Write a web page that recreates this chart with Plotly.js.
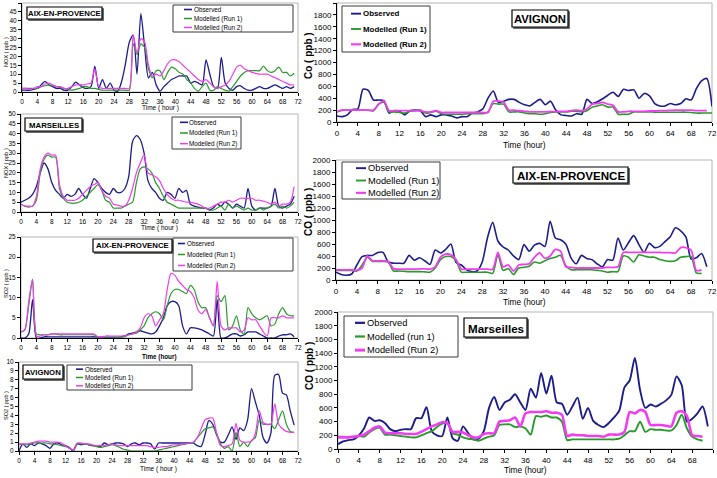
<!DOCTYPE html>
<html>
<head>
<meta charset="utf-8">
<script src="https://cdn.plot.ly/plotly-3.0.1.min.js"></script>
<style>
  html, body { margin: 0; padding: 0; background: #ffffff; }
  #chart { width: 717px; height: 478px; }
</style>
</head>
<body>
<div id="chart"></div>
<script>
// Hourly series, t = 0 .. 71 h (modelled CO runs stop one hour earlier)
const HOURS = Array.from({ length: 73 }, (_, i) => i);

// NOx (ppb) - Aix-en-Provence
const noxAixObs  = [1,1,1,1.5,2,4,6,4,3,2,2,1,1,3,5.5,4,2.5,2,3,14.5,2,7,2,5,1,0.5,6,16,28,32,10,44,25,8,11,4,0.5,3,5,7,8,9,9,9,5,6,5,4,18,10,3,2,19.5,5,2,1,3,3.5,2,1,1,2,3,2,2,3,4,3,2,3,2,3];
const noxAixRun1 = [2,2,2,2,2,3,3.5,4,3.5,3,2.5,2,1.5,1,1.5,2,3,3,2,2,1.5,1,1,1,1,1,1,1,1,27,21,27,25,13,8,12,12,7,11,14,13,11,10,7,5,2,0.5,3,5,1,1,3,2,1,0.5,3,6,9,11,12,12,12,12,14.5,12,11,12,14,11,11,9,10.5];
const noxAixRun2 = [2,2,1.5,2,3,3,4.5,5,4,3,3,2,2,3,4,4,4,4.5,5,13,3,2,2,2,2,2,2,2,2,32,22,30,28,15,9,10,9,12,16,18,18,17,15,13,11,9,7,6,7,5,3,2,3,4,6,10,14,15,13,12,11,10.5,10,10,10,9,8,7,6,5,4,4];

// NOx (ppb) - Marseilles
const noxMarObs  = [5,6,7,9,13,20,25,22,15,11,9,7,9,8,9,12,9,7,12,17,15,12,10,9,12,10,10,12,18,36,39,37,30,16,12,10,7,6,10,9,7,12,10,11,4,3,2.5,2,2,1,2,4,3,5,4,2,4,3,2,12,3,1,2,2,2,3,12,3,2,3,4,8];
const noxMarRun1 = [4,3,2.5,3,6,20,27,29,28,28,12,7,5,4.5,4.5,5,6,8,10,12,14,11,6,5,2,2,2,3,4,5,15,22,23,22,20,15,12,8,5,4,3,2,2,2,2,2,2,2,2,1,1,2,3,1,4,2,3,2,1,2,1,1,2,1,2,3,4,2,3,2,3,5];
const noxMarRun2 = [4,3,3,3,8,22,28,30,29,29,14,8,6,6,6,7,9,11,13,14,15,11,8,7,4,3.5,3,3,6,12,20,25,29,20,19,18,16,12,9,7,6,6,5.5,5,5,4.5,4,3,2,2,3,4,5,5,6,5,6,7,7,7,7,6,6,5.5,5,4,5,3,4,4,5,13];

// SO2 (ppb) - Aix-en-Provence
const so2AixObs  = [0,0,1,9.5,0,0,0.3,0.3,0.3,0.3,0.3,0.3,0.3,0.3,0.3,0.3,0.3,0.3,0.3,0.3,0.2,0.2,0.2,0.2,0.2,0.2,0.3,0.5,1,1.2,1.5,1.8,1.5,1.2,1,1.5,3,5,8,9,9,8,3,1,2.5,2.5,2.3,2,1.5,1,0.5,9.5,0,0,0.5,1,1,0.5,0.8,1.5,1.5,1.5,1,0.5,0,0,0,0.5,0.8,0.8,1,0.3];
const so2AixRun1 = [1.5,2,8,14.5,1,0.8,0.8,0.8,1,1,0.8,0.8,0.8,0.8,0.8,0.8,0.8,0.8,0.8,0.8,0,0,0,0,0,0.1,0.2,0.3,0.8,1,1.2,2,3,5,6,6.5,6,4.5,8,11,12,12,11.5,11,13,12,9,7.5,7.5,5,3,10.5,9,10.5,2,3,5.5,2,1,7.5,6,5,4.5,5,5.5,3,3.5,6,7.5,6,5.5,5.5];
const so2AixRun2 = [1.5,2,9,14.5,0.5,0.5,0.8,0.8,1,1,1,1,1,1,1,1,1,1,1,1,0.3,0.3,0.5,0.5,0.5,0.5,0.5,0.5,0.8,1,1.5,2.5,5,6,5.5,3,4.5,6,12,16,15.5,14,13,12,11.5,10,7,6,7,5,3,14,3,2,2.5,2.5,2.5,1.5,2,5,4.5,4.5,3,1.5,0.5,5,5,5,5.5,5,5,5];

// SO2 (ppb) - Avignon
const so2AviObs  = [0,0.8,0.4,0.8,0.6,0.9,0.8,0.6,0.3,0.8,0.9,0.7,0.6,0.4,0,0.8,0.7,0.8,0.7,0.6,0.6,0.5,0.9,0.7,0.8,0.9,0.9,0.8,0.5,0.8,0.9,0.7,0.9,0.9,0.8,0.2,0.9,0.9,0.9,0.9,0.9,0.9,0.9,0.9,0.9,0.9,0.6,0.5,1.8,3.4,3,1.8,1,1,1.8,2.7,1.3,2.6,2.3,3.5,7,5.5,4,1.5,0.9,2,8.5,8.6,6.5,6.3,4.5,2.9];
const so2AviRun1 = [0.8,0.7,0.7,0.8,0.9,0.9,0.9,0.9,0.8,0.8,0.7,0.6,0.5,0.3,0.1,0.8,0.8,0.8,0.7,0.6,0.5,0.4,0.5,0.6,0.7,0.6,0.4,0.2,0.1,0,0,0,0,0,0,0,0.1,0.2,0.3,0.4,0.5,0.6,0.7,0.8,0.9,0.9,1.5,2,2.5,2.6,2.7,2,0.8,0.3,0.5,0,2.1,0.5,1,0.5,1.2,1.5,3.5,3,3,3,2.5,3.5,4.5,3,2.2,2.1];
const so2AviRun2 = [0.8,0.8,0.8,0.9,1,1.1,1.1,1.1,1,1,1,0.9,0.6,0.3,0.1,0.9,0.9,0.8,0.8,0.7,0.6,0.6,0.6,0.7,0.8,0.7,0.6,0.6,0.6,0.6,0.6,0.6,0.6,0.6,0.5,0.4,0.4,0.5,0.5,0.6,0.7,0.7,0.8,0.8,0.9,1,1.5,2.5,3.5,3.7,3.7,2,0.6,0.5,0.6,0.8,3.1,1.2,1,1,1.1,2,4.5,3.2,3,3,5.3,3,2.5,2.2,2.1,2.1];

// CO (ppb) - Avignon
const coAviObs  = [100,90,120,210,220,550,530,370,370,360,150,190,180,120,190,200,190,90,120,90,120,120,100,70,90,90,150,170,220,400,520,330,350,380,380,330,290,270,330,380,290,350,200,120,110,100,140,130,380,310,340,390,450,500,430,550,530,540,400,480,440,310,270,270,310,290,310,390,370,560,690,730,260];
const coAviRun1 = [170,200,200,200,200,200,195,190,300,330,170,170,160,150,180,190,200,150,160,180,140,130,130,130,130,140,140,140,140,170,310,300,300,170,170,170,150,140,140,130,140,160,170,170,170,180,180,170,190,250,270,290,250,250,130,130,130,170,170,170,170,165,165,165,165,165,165,165,160,150,150,150,150];
const coAviRun2 = [170,200,200,200,200,200,200,200,300,355,190,190,190,190,190,190,190,170,170,190,160,160,160,160,160,160,160,160,160,160,350,350,330,200,200,190,180,170,170,170,170,175,175,180,180,190,200,190,220,300,310,330,300,280,170,170,180,180,180,180,185,185,190,190,195,200,200,200,200,190,190,190];

// CO (ppb) - Aix-en-Provence
const coAixObs  = [130,90,80,100,250,390,410,410,460,460,300,280,280,280,410,330,370,320,260,500,450,510,600,290,250,170,140,150,300,700,960,650,550,500,400,340,590,480,580,610,560,980,700,670,600,370,270,410,360,340,270,220,340,330,700,500,620,740,590,460,610,540,560,640,720,870,820,720,350,370,440,220];
const coAixRun1 = [160,160,160,160,150,250,380,310,310,310,300,150,150,145,140,140,140,135,130,200,340,390,390,320,130,130,130,130,130,130,110,420,160,190,90,200,210,230,300,280,320,360,380,410,240,170,170,170,170,170,160,150,130,140,140,400,380,300,420,400,380,380,340,320,310,320,380,390,390,120,110];
const coAixRun2 = [170,170,170,170,160,200,400,320,320,320,310,190,180,180,180,180,185,185,180,220,380,430,420,340,180,180,180,180,180,180,180,460,220,250,150,250,260,270,380,450,360,400,510,480,220,210,200,200,200,200,200,200,210,210,220,460,460,460,460,460,460,460,460,455,455,450,540,540,500,160,170];

// CO (ppb) - Marseilles
const coMarObs  = [70,110,130,140,200,300,460,410,420,380,290,260,280,290,290,450,450,610,260,200,190,460,160,120,330,230,140,150,260,600,760,570,680,720,800,680,570,880,750,1110,810,1070,680,660,500,620,750,440,600,410,350,320,380,460,560,900,1000,1330,860,600,650,620,660,710,790,1060,930,400,440,520,620,330];
const coMarRun1 = [180,180,170,180,190,180,240,290,310,210,210,200,190,180,170,170,200,230,260,320,370,380,230,210,170,150,140,120,150,180,200,350,360,360,320,330,300,210,480,470,490,460,460,400,130,140,140,140,140,140,140,140,140,140,150,200,260,260,400,250,290,280,280,270,270,350,500,300,180,140,120];
const coMarRun2 = [170,170,170,180,190,210,260,310,330,240,230,230,230,220,220,220,250,290,330,360,390,380,250,250,240,200,170,170,220,230,230,400,410,420,460,330,520,540,540,540,550,530,530,500,190,210,200,200,190,190,190,180,210,210,210,250,540,520,570,540,350,350,350,340,330,530,550,480,200,190,180];

// Legend and title texts
const LABELS_LEFT  = ['Observed', 'Modelled (Run 1)', 'Modelled (Run 2)'];
const LABELS_MAR   = ['Observed', 'Modelled (run 1)', 'Modelled (Run 2)'];
const STATIONS     = ['AIX-EN-PROVENCE', 'MARSEILLES', 'AIX-EN-PROVENCE', 'AVIGNON', 'AVIGNON', 'AIX-EN-PROVENCE', 'Marseilles'];
const Y_TITLES     = ['NOX ( ppb )', 'NOX ( ppb )', 'SO2 ( ppb )', 'SO2 ( ppb )', 'Co ( ppb )', 'CO ( ppb )', 'CO ( ppb )'];
const X_TITLES     = ['Time ( hour )', 'Time ( hour )', 'Time (hour)', 'Time ( hour )', 'Time (hour)', 'Time (hour)', 'Time (hour)'];

const COLORS = ['#1c1c8c', '#2a9a2a', '#f23cf2'];
const FONT = 'Liberation Sans, Arial, sans-serif';
const W = 717, H = 478;
const fx = v => v / W;
const fy = v => 1 - v / H;

// Panel geometry in page pixels
const panels = [
  { series: [noxAixObs, noxAixRun1, noxAixRun2], labels: LABELS_LEFT, x: [22, 298], y: [3, 92], range: [0, 50], dtick: 5,
    tick: 6.5, widths: [1.3, 1.2, 1.2],
    legend: { box: [173, 5, 293, 32], line: [184, 192], text: 194, size: 6.3, bold: false },
    station: { box: [27, 7, 102, 19], size: 7.8 },
    ytitle: { x: 6, y: 52, size: 5.6, bold: false }, xtitle: { y: 108, size: 6.5, bold: false } },
  { series: [noxMarObs, noxMarRun1, noxMarRun2], labels: LABELS_LEFT, x: [21, 298], y: [114, 212], range: [0, 50], dtick: 5,
    tick: 6.5, widths: [1.3, 1.2, 1.2],
    legend: { box: [172, 117, 241, 149], line: [180, 188], text: 189, size: 6.3, bold: false },
    station: { box: [25, 118, 82, 131], size: 7.8 },
    ytitle: { x: 6, y: 163, size: 5.6, bold: false }, xtitle: { y: 228, size: 6.5, bold: false } },
  { series: [so2AixObs, so2AixRun1, so2AixRun2], labels: LABELS_LEFT, x: [21, 298], y: [237, 338], range: [0, 25], dtick: 5,
    tick: 6.5, widths: [1.3, 1.2, 1.2],
    legend: { box: [173, 238, 293, 271], line: [178, 185], text: 187, size: 6.3, bold: false },
    station: { box: [93, 239, 172, 252], size: 7.8 },
    ytitle: { x: 6, y: 284, size: 5.6, bold: false }, xtitle: { y: 357, size: 6.3, bold: true } },
  { series: [so2AviObs, so2AviRun1, so2AviRun2], labels: LABELS_LEFT, x: [19, 298], y: [362, 451], range: [0, 10], dtick: 1,
    tick: 6.5, widths: [1.3, 1.2, 1.2],
    legend: { box: [67, 365, 192, 390], line: [76, 83], text: 85, size: 6.3, bold: false },
    station: { box: [23, 365, 63, 379], size: 7.8 },
    ytitle: { x: 6, y: 406, size: 5.6, bold: false }, xtitle: { y: 468.5, size: 6.5, bold: false } },
  { series: [coAviObs, coAviRun1, coAviRun2], labels: LABELS_LEFT, x: [337, 712], y: [3, 122], range: [0, 2000], dtick: 200,
    tick: 8, widths: [1.6, 1.6, 1.8],
    legend: { box: [342, 6, 430, 52], line: [351, 361], text: 363, size: 7.9, bold: true },
    station: { box: [512, 10, 568, 27], size: 11.3 },
    ytitle: { x: 309, y: 56, size: 10, bold: true }, xtitle: { y: 145, size: 8.3, bold: false } },
  { series: [coAixObs, coAixRun1, coAixRun2], labels: LABELS_LEFT, x: [336, 712], y: [160, 280], range: [0, 2000], dtick: 200,
    tick: 8, widths: [1.6, 1.6, 1.8],
    legend: { box: [342, 162, 440, 199], line: [356, 366], text: 368, size: 9.3, bold: false },
    station: { box: [513, 167, 628, 183], size: 11.6 },
    ytitle: { x: 309, y: 212, size: 10, bold: true }, xtitle: { y: 302, size: 8.3, bold: false } },
  { series: [coMarObs, coMarRun1, coMarRun2], labels: LABELS_MAR, x: [338, 713], y: [312, 449], range: [0, 2000], dtick: 200,
    tick: 8, widths: [1.9, 1.9, 2.6],
    legend: { box: [344, 316, 458, 357], line: [355, 365], text: 367, size: 9.3, bold: false },
    station: { box: [464, 318, 527, 337], size: 11.6 },
    ytitle: { x: 309, y: 366, size: 10, bold: true }, xtitle: { y: 470, size: 8.3, bold: false } }
];

const traces = [];
const shapes = [];
const annotations = [];
const layout = {
  width: W, height: H,
  margin: { l: 0, r: 0, t: 0, b: 0 },
  paper_bgcolor: '#ffffff', plot_bgcolor: '#ffffff',
  showlegend: false,
  font: { family: FONT, color: '#000000' },
  shapes: shapes, annotations: annotations
};

function text(x, y, str, size, bold, extra) {
  annotations.push(Object.assign({
    xref: 'paper', yref: 'paper', x: fx(x), y: fy(y), text: str, showarrow: false,
    borderpad: 0, borderwidth: 0,
    font: { family: FONT, size: size, color: '#000000', weight: bold ? 'bold' : 'normal' }
  }, extra || {}));
}

function rect(b, line, fill, layer) {
  shapes.push({ type: 'rect', xref: 'paper', yref: 'paper',
    x0: fx(b[0]), x1: fx(b[2]), y0: fy(b[3]), y1: fy(b[1]),
    line: line, fillcolor: fill, layer: layer || 'above' });
}

panels.forEach((p, i) => {
  const n = i === 0 ? '' : String(i + 1);
  const axisCommon = {
    showline: true, linecolor: '#000000', linewidth: 1,
    ticks: 'outside', ticklen: 3, tickcolor: '#000000', tickwidth: 1,
    showgrid: false, zeroline: false, fixedrange: true,
    tickfont: { family: FONT, size: p.tick, color: '#000000' }
  };
  layout['xaxis' + n] = Object.assign({}, axisCommon, {
    domain: [fx(p.x[0]), fx(p.x[1])], anchor: 'y' + n,
    range: [0, 72], tick0: 0, dtick: 4
  });
  layout['yaxis' + n] = Object.assign({}, axisCommon, {
    domain: [fy(p.y[1]), fy(p.y[0])], anchor: 'x' + n,
    range: p.range, tick0: 0, dtick: p.dtick
  });

  // light plot-area frame
  shapes.push({ type: 'rect', xref: 'x' + n + ' domain', yref: 'y' + n + ' domain',
    x0: 0, x1: 1, y0: 0, y1: 1, line: { color: '#b5b5b5', width: 1 }, layer: 'below' });

  p.series.forEach((s, k) => {
    traces.push({
      type: 'scatter', mode: 'lines', name: p.labels[k],
      x: HOURS.slice(0, s.length), y: s,
      xaxis: 'x' + n, yaxis: 'y' + n,
      line: { color: COLORS[k], width: p.widths[k], shape: 'spline', smoothing: 0.7 },
      hoverinfo: 'skip'
    });
  });

  // legend box
  const L = p.legend;
  rect(L.box, { color: '#3a3a3a', width: 1 }, 'rgba(255,255,255,0)');
  const step = (L.box[3] - L.box[1]) / p.labels.length;
  p.labels.forEach((lab, k) => {
    const yc = L.box[1] + step * (k + 0.5);
    shapes.push({ type: 'line', xref: 'paper', yref: 'paper',
      x0: fx(L.line[0]), x1: fx(L.line[1]), y0: fy(yc), y1: fy(yc),
      line: { color: COLORS[k], width: Math.max(1.4, p.widths[k] + 0.3) } });
    text(L.text, yc, lab, L.size, L.bold, { xanchor: 'left', yanchor: 'middle' });
  });

  // station label with shadow
  const S = p.station.box;
  rect([S[0] + 1.5, S[1] + 1.5, S[2] + 1.5, S[3] + 1.5], { color: '#6a6a6a', width: 1 }, '#6a6a6a');
  rect(S, { color: '#000000', width: 1.2 }, '#ffffff');
  text((S[0] + S[2]) / 2, (S[1] + S[3]) / 2 + 0.5, STATIONS[i], p.station.size, true,
    { xanchor: 'center', yanchor: 'middle' });

  // axis titles
  text(p.ytitle.x, p.ytitle.y, Y_TITLES[i], p.ytitle.size, p.ytitle.bold,
    { xanchor: 'center', yanchor: 'middle', textangle: -90 });
  text((p.x[0] + p.x[1]) / 2, p.xtitle.y, X_TITLES[i], p.xtitle.size, p.xtitle.bold,
    { xanchor: 'center', yanchor: 'middle' });
});

Plotly.newPlot('chart', traces, layout, { staticPlot: true, displayModeBar: false });
</script>
</body>
</html>
